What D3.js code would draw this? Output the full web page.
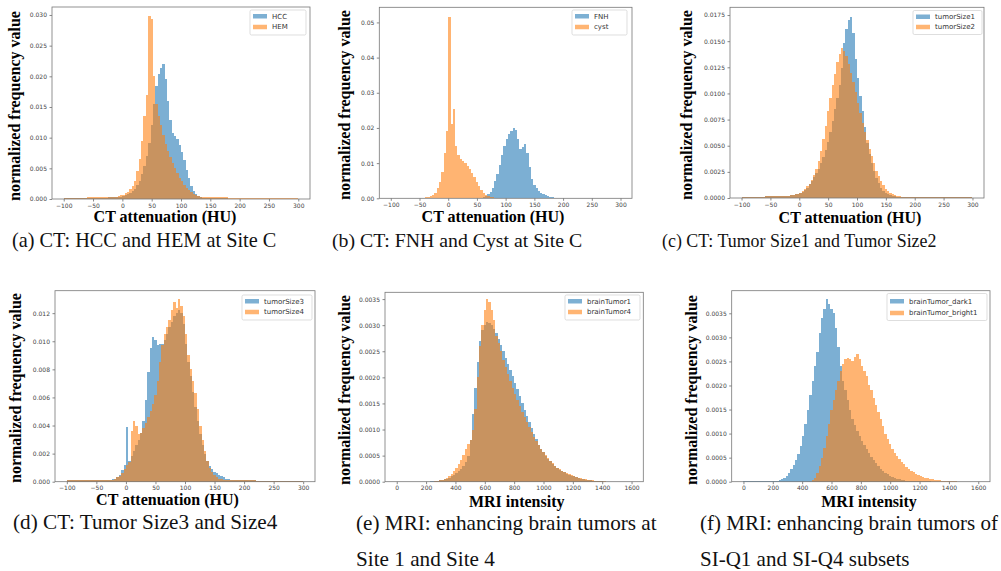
<!DOCTYPE html>
<html><head><meta charset="utf-8">
<script src="https://cdn.jsdelivr.net/npm/d3@7"></script>
<style>html,body{margin:0;padding:0;background:#fff;} svg{display:block;}</style>
</head><body><svg id="c" width="1001" height="571"></svg>
<script>
// ---------- DATA (normalized frequency per bin, 100 bins each) ----------
// CT bins: -100..300 HU, width 4 ; MRI bins: 0..1600, width 16
const ctTicks = [-100, -50, 0, 50, 100, 150, 200, 250, 300];
const mriTicks = [0, 200, 400, 600, 800, 1000, 1200, 1400, 1600];
const yTicksA = [0, 0.005, 0.010, 0.015, 0.020, 0.025, 0.030];
const yTicksB = [0, 0.01, 0.02, 0.03, 0.04, 0.05];
const yTicksC = [0, 0.0025, 0.0050, 0.0075, 0.0100, 0.0125, 0.0150, 0.0175];
const yTicksD = [0, 0.002, 0.004, 0.006, 0.008, 0.010, 0.012];
const yTicksE = [0, 0.0005, 0.0010, 0.0015, 0.0020, 0.0025, 0.0030, 0.0035];
const yTicksF = [0, 0.0005, 0.0010, 0.0015, 0.0020, 0.0025, 0.0030, 0.0035];

const hccValues = [
0.0001,0.0001,0.0001,0.0001,0.0001,0.0001,0.0001,0.0001,0.0001,0.0001,
0.0001,0.0001,0.0001,0.0001,0.0001,0.0002,0.0002,0.0002,0.0002,0.0003,
0.0003,0.0003,0.0003,0.0004,0.0004,0.0005,0.0006,0.0008,0.0010,0.0013,
0.0017,0.0023,0.0030,0.0040,0.0053,0.0070,0.0092,0.0120,0.0155,0.0185,
0.0203,0.0213,0.0220,0.0195,0.0160,0.0128,0.0108,0.0103,0.0097,0.0088,
0.0077,0.0063,0.0048,0.0034,0.0022,0.0013,0.0008,0.0005,0.0003,0.0002,
0.0001,0.0001,0.0001,0.0001,0.0001,0.0001,0.0001,0.0001,0.0001,0.0001,
0,0,0,0,0,0,0,0,0,0,
0,0,0,0,0,0,0,0,0,0,
0,0,0,0,0,0,0,0,0,0];
const hemValues = [
0.0002,0.0002,0.0002,0.0002,0.0002,0.0002,0.0002,0.0002,0.0002,0.0002,
0.0003,0.0003,0.0003,0.0003,0.0003,0.0003,0.0003,0.0003,0.0003,0.0003,
0.0003,0.0004,0.0004,0.0005,0.0006,0.0007,0.0009,0.0012,0.0016,0.0022,
0.0030,0.0045,0.0065,0.0095,0.0135,0.0170,0.0298,0.0294,0.0200,0.0155,
0.0135,0.0120,0.0105,0.0090,0.0078,0.0068,0.0058,0.0050,0.0042,0.0035,
0.0029,0.0023,0.0018,0.0014,0.0011,0.0008,0.0006,0.0005,0.0004,0.0004,
0.0003,0.0003,0.0003,0.0003,0.0003,0.0003,0.0003,0.0003,0.0003,0.0003,
0.0002,0.0002,0.0002,0.0002,0.0002,0.0002,0.0002,0.0002,0.0002,0.0002,
0.0002,0.0002,0.0002,0.0002,0.0002,0.0001,0.0001,0.0001,0.0001,0.0001,
0.0001,0.0001,0.0001,0.0001,0.0001,0.0001,0.0001,0.0001,0.0001,0.0001];

const fnhValues = [
0,0,0,0,0,0,0,0,0,0,
0,0,0,0,0,0,0,0,0,0,
0,0,0,0,0,0,0,0,0,0,
0,0,0,0,0,0.0001,0.0001,0.0001,0.0001,0.0002,
0.0003,0.0006,0.0011,0.0019,0.0030,0.0048,0.0070,0.0095,0.0122,0.0148,
0.0168,0.0182,0.0192,0.0200,0.0193,0.0168,0.0140,0.0147,0.0153,0.0128,
0.0090,0.0055,0.0038,0.0028,0.0021,0.0016,0.0012,0.0009,0.0006,0.0004,
0.0003,0.0002,0.0001,0.0001,0,0,0,0,0,0,
0,0,0,0,0,0,0,0,0,0,
0,0,0,0,0,0,0,0,0,0];
const cystValues = [
0.0001,0.0001,0.0001,0.0001,0.0001,0.0001,0.0001,0.0001,0.0001,0.0001,
0.0002,0.0002,0.0002,0.0002,0.0002,0.0003,0.0004,0.0006,0.0010,0.0016,
0.0028,0.0045,0.0075,0.0130,0.0190,0.0515,0.0210,0.0255,0.0148,0.0122,
0.0112,0.0106,0.0100,0.0092,0.0083,0.0072,0.0060,0.0046,0.0036,0.0025,
0.0014,0.0009,0.0006,0.0004,0.0003,0.0002,0.0001,0.0001,0.0001,0.0001,
0.0001,0.0001,0.0001,0.0001,0.0001,0.0001,0,0,0,0,
0,0,0,0,0,0,0,0,0,0,
0,0,0,0,0,0,0,0,0,0,
0,0,0,0,0,0,0,0,0,0,
0,0,0,0,0,0,0,0,0,0];

const size1Values = [
0.0001,0.0001,0.0001,0.0001,0.0001,0.0001,0.0001,0.0001,0.0001,0.0001,
0.0002,0.0002,0.0002,0.0002,0.0002,0.0002,0.0002,0.0002,0.0002,0.0002,
0.0002,0.0003,0.0003,0.0004,0.0004,0.0005,0.0006,0.0008,0.0010,0.0013,
0.0016,0.0020,0.0024,0.0028,0.0033,0.0039,0.0046,0.0054,0.0063,0.0074,
0.0085,0.0096,0.0108,0.0124,0.0148,0.0162,0.0170,0.0173,0.0158,0.0133,
0.0115,0.0098,0.0083,0.0068,0.0053,0.0042,0.0033,0.0026,0.0019,0.0014,
0.0010,0.0007,0.0005,0.0004,0.0003,0.0002,0.0002,0.0001,0.0001,0.0001,
0.0001,0.0001,0.0001,0.0001,0.0001,0.0001,0.0001,0.0001,0.0001,0.0001,
0.00005,0.00005,0.00005,0.00005,0.00005,0.00005,0.00005,0.00005,0.00005,0.00005,
0.00005,0.00005,0.00005,0.00005,0.00005,0.00005,0.00005,0.00005,0.00005,0.00005];
const size2Values = [
0.0001,0.0001,0.0001,0.0001,0.0001,0.0001,0.0001,0.0001,0.0001,0.0001,
0.0002,0.0002,0.0002,0.0002,0.0002,0.0002,0.0002,0.0002,0.0002,0.0002,
0.0002,0.0003,0.0003,0.0004,0.0004,0.0005,0.0007,0.0009,0.0011,0.0013,
0.0017,0.0022,0.0028,0.0035,0.0045,0.0056,0.0069,0.0083,0.0096,0.0108,
0.0119,0.0130,0.0138,0.0143,0.0141,0.0136,0.0128,0.0120,0.0111,0.0101,
0.0091,0.0081,0.0072,0.0063,0.0055,0.0047,0.0040,0.0033,0.0026,0.0021,
0.0016,0.0012,0.0009,0.0007,0.0005,0.0004,0.0003,0.0002,0.0002,0.0001,
0.0001,0.0001,0.0001,0.0001,0.0001,0.0001,0.0001,0.0001,0.0001,0.0001,
0.00005,0.00005,0.00005,0.00005,0.00005,0.00005,0.00005,0.00005,0.00005,0.00005,
0.00005,0.00005,0.00005,0.00005,0.00005,0.00005,0.00005,0.00005,0.00005,0.00005];

const size3Values = [
0.0001,0.0001,0.0001,0.0001,0.0001,0.0001,0.0001,0.0001,0.0001,0.0001,
0.0001,0.0001,0.0001,0.0001,0.0001,0.0001,0.0001,0.0001,0.0001,0.0002,
0.0002,0.0003,0.0005,0.0008,0.0012,0.0039,0.0015,0.0018,0.0022,0.0026,
0.0030,0.0035,0.0043,0.0058,0.0078,0.0095,0.0103,0.0101,0.0097,0.0098,
0.0098,0.0101,0.0105,0.0110,0.0114,0.0118,0.0120,0.0122,0.0120,0.0112,
0.0098,0.0085,0.0075,0.0064,0.0053,0.0043,0.0034,0.0026,0.0020,0.0015,
0.0011,0.0009,0.0007,0.0006,0.0005,0.0004,0.0003,0.0002,0.0002,0.0001,
0.0001,0.0001,0.0001,0.0001,0.0001,0.0001,0.0001,0.0001,0.0001,0.0001,
0.00005,0.00005,0.00005,0.00005,0.00005,0.00005,0.00005,0.00005,0.00005,0.00005,
0.00005,0.00005,0.00005,0.00005,0.00005,0.00005,0.00005,0.00005,0.00005,0.00005];
const size4Values = [
0.0001,0.0001,0.0001,0.0001,0.0001,0.0001,0.0001,0.0001,0.0001,0.0001,
0.0001,0.0001,0.0001,0.0001,0.0001,0.0001,0.0001,0.0001,0.0001,0.0001,
0.0002,0.0003,0.0004,0.0006,0.0009,0.0012,0.0014,0.0036,0.0043,0.0040,
0.0034,0.0035,0.0038,0.0042,0.0046,0.0050,0.0055,0.0062,0.0072,0.0085,
0.0097,0.0105,0.0110,0.0115,0.0122,0.0128,0.0124,0.0130,0.0125,0.0118,
0.0105,0.0090,0.0080,0.0072,0.0063,0.0052,0.0040,0.0030,0.0022,0.0015,
0.0010,0.0007,0.0005,0.0003,0.0002,0.0002,0.0001,0.0001,0.0001,0.0001,
0.0001,0.0001,0.0001,0.0001,0.0001,0.0001,0.0001,0.0001,0.0001,0.0001,
0.00005,0.00005,0.00005,0.00005,0.00005,0.00005,0.00005,0.00005,0.00005,0.00005,
0.00005,0.00005,0.00005,0.00005,0.00005,0.00005,0.00005,0.00005,0.00005,0.00005];

const bt1Values = [
0,0,0,0,0,0,0,0,0,0,
0,0,0,0,0.00001,0.00001,0.00002,0.00002,0.00003,0.00004,
0.00005,0.00006,0.00008,0.0001,0.00013,0.00016,0.0002,0.00025,0.0003,0.00038,
0.0005,0.0008,0.0013,0.0018,0.0023,0.0027,0.0029,0.0030,0.00306,0.00305,
0.0030,0.00293,0.00285,0.00274,0.00262,0.0025,0.00238,0.00226,0.00214,0.00202,
0.0019,0.00177,0.00164,0.00151,0.00138,0.00126,0.00114,0.00103,0.00092,0.00081,
0.0007,0.00062,0.00056,0.0005,0.00044,0.00039,0.00034,0.0003,0.00026,0.00023,
0.0002,0.00018,0.00015,0.00013,0.00011,0.0001,0.00009,0.00008,0.00006,0.00005,
0.00004,0.00003,0.00003,0.00002,0.00002,0.00001,0.00001,0.00001,0,0,
0,0,0,0,0,0,0,0,0,0];
const bt4Values = [
0,0,0,0,0,0,0,0,0,0,
0,0,0,0,0,0,0.00001,0.00002,0.00003,0.00004,
0.00005,0.00007,0.0001,0.00014,0.0002,0.00026,0.00033,0.00042,0.00052,0.00062,
0.00072,0.0008,0.001,0.0014,0.002,0.0026,0.003,0.0033,0.0035,0.00345,
0.0033,0.0031,0.0028,0.00265,0.0025,0.00234,0.0022,0.00206,0.00193,0.0018,
0.00168,0.00156,0.00145,0.00134,0.00124,0.00114,0.00104,0.00095,0.00086,0.00078,
0.0007,0.00063,0.00057,0.00051,0.00045,0.0004,0.00035,0.00031,0.00027,0.00024,
0.00021,0.00018,0.00016,0.00014,0.00012,0.0001,0.00009,0.00008,0.00007,0.00006,
0.00005,0.00004,0.00003,0.00003,0.00002,0.00002,0.00001,0.00001,0.00001,0,
0,0,0,0,0,0,0,0,0,0];

const dark1Values = [
0.00001,0.00001,0.00001,0.00001,0.00001,0.00001,0.00001,0.00001,0.00001,0.00001,
0.00001,0.00001,0.00001,0.00001,0.00002,0.00003,0.00005,0.00008,0.00012,0.00018,
0.00026,0.00035,0.00045,0.00058,0.00075,0.00095,0.0012,0.0015,0.0018,0.0021,
0.0024,0.0027,0.0031,0.0034,0.0036,0.0038,0.0037,0.0036,0.0035,0.0032,
0.0028,0.0024,0.0021,0.0019,0.0017,0.0015,0.0013,0.00118,0.00106,0.00095,
0.00085,0.00076,0.00068,0.0006,0.00052,0.00045,0.00038,0.00032,0.00027,0.00022,
0.00018,0.00015,0.00012,0.0001,0.00008,0.00006,0.00005,0.00004,0.00003,0.00002,
0.00001,0.00001,0.00001,0.00001,0.00001,0.00001,0.00001,0.00001,0.00001,0.00001,
0,0,0,0,0,0,0,0,0,0,
0,0,0,0,0,0,0,0,0,0];
const bright1Values = [
0,0,0,0,0,0,0,0,0,0,
0,0,0,0,0,0,0,0,0,0,
0,0,0,0,0,0,0,0,0,0.00003,
0.00008,0.00018,0.00032,0.0005,0.0007,0.00095,0.0012,0.0015,0.0017,0.0019,
0.0021,0.0023,0.00245,0.00255,0.00258,0.00255,0.0025,0.0026,0.00265,0.00255,
0.0024,0.0023,0.0022,0.002,0.0019,0.00175,0.0016,0.00145,0.0013,0.00115,
0.001,0.00088,0.00078,0.00069,0.0006,0.00053,0.00047,0.00041,0.00036,0.00031,
0.00027,0.00023,0.0002,0.00017,0.00014,0.00012,0.0001,0.00008,0.00007,0.00006,
0.00005,0.00004,0.00003,0.00003,0.00002,0.00002,0.00001,0.00001,0.00001,0.00001,
0.00001,0,0,0,0,0,0,0,0,0];

// ---------- LAYOUT ----------
const BLUE = '#1f77b4', ORANGE = '#ff7f0e';
const ALPHA = 0.58;
const ctEdges = d3.range(101).map(i => -100 + 4 * i);
const mriEdges = d3.range(101).map(i => 16 * i);

const panels = [
  { box:{l:52,r:310,t:7,b:199}, xdom:[-120,320], ymax:0.0313, xt:ctTicks, yt:yTicksA, fmt:'.3f', edges:ctEdges,
    series:[['HCC',hccValues,BLUE],['HEM',hemValues,ORANGE]], leg:[250,10,56,25],
    xl:['CT attenuation (HU)',165,221.7], yl:[20,106], capSize:20.3, cap:[[ '(a) CT: HCC and HEM at Site C',12,246.7]] },
  { box:{l:379.3,r:632,t:7.3,b:198.3}, xdom:[-120,320], ymax:0.0543, xt:ctTicks, yt:yTicksB, fmt:'.2f', edges:ctEdges,
    series:[['FNH',fnhValues,BLUE],['cyst',cystValues,ORANGE]], leg:[572,10,55,25],
    xl:['CT attenuation (HU)',493,221.7], yl:[350,105], capSize:19.8, cap:[[ '(b) CT: FNH and Cyst at Site C',332,246.7]] },
  { box:{l:730,r:984,t:7.3,b:198}, xdom:[-120,320], ymax:0.01824, xt:ctTicks, yt:yTicksC, fmt:'.4f', edges:ctEdges,
    series:[['tumorSize1',size1Values,BLUE],['tumorSize2',size2Values,ORANGE]], leg:[913,10.5,69,24],
    xl:['CT attenuation (HU)',850,222.7], yl:[692,105], capSize:17.9, cap:[[ '(c) CT: Tumor Size1 and Tumor Size2',662,246.7]] },
  { box:{l:55,r:315,t:290.7,b:481.7}, xdom:[-120,320], ymax:0.0136, xt:ctTicks, yt:yTicksD, fmt:'.3f', edges:ctEdges,
    series:[['tumorSize3',size3Values,BLUE],['tumorSize4',size4Values,ORANGE]], leg:[242,295,70,25],
    xl:['CT attenuation (HU)',167.5,504.5], yl:[21,388], capSize:21.2, cap:[[ '(d) CT: Tumor Size3 and Size4',13,528.5]] },
  { box:{l:385,r:643.3,t:292.3,b:481.7}, xdom:[-80,1680], ymax:0.00363, xt:mriTicks, yt:yTicksE, fmt:'.4f', edges:mriEdges,
    series:[['brainTumor1',bt1Values,BLUE],['brainTumor4',bt4Values,ORANGE]], leg:[565,295,75,25],
    xl:['MRI intensity',516.7,506.5], yl:[350,390], capSize:21.2, cap:[[ '(e) MRI: enhancing brain tumors at',356,529.5],['Site 1 and Site 4',356,566]] },
  { box:{l:731.7,r:990,t:290.7,b:481.7}, xdom:[-80,1680], ymax:0.00397, xt:mriTicks, yt:yTicksF, fmt:'.4f', edges:mriEdges,
    series:[['brainTumor_dark1',dark1Values,BLUE],['brainTumor_bright1',bright1Values,ORANGE]], leg:[887,293.5,100,27],
    xl:['MRI intensity',869,506.5], yl:[697,390], capSize:21, cap:[[ '(f) MRI: enhancing brain tumors of',700,529.5],['SI-Q1 and SI-Q4 subsets',700,566]] }
];

const bad = [];
panels.forEach(p => p.series.forEach(s => { if (s[1].length !== 100) bad.push(s[0] + ':' + s[1].length); }));
if (bad.length) throw new Error('bad lengths ' + bad.join(','));

const svg = d3.select('#c');
const TICKFONT = 'DejaVu Sans, sans-serif';
const SERIF = '"Liberation Serif", "Times New Roman", serif';

panels.forEach(p => {
  const x = d3.scaleLinear().domain(p.xdom).range([p.box.l, p.box.r]);
  const y = d3.scaleLinear().domain([0, p.ymax]).range([p.box.b, p.box.t]);
  const g = svg.append('g');

  p.series.forEach(([name, vals, color]) => {
    const sg = g.append('g').attr('opacity', ALPHA);
    sg.selectAll('rect')
      .data(vals.map((v, i) => ({ v, x0: p.edges[i], x1: p.edges[i + 1] })).filter(d => d.v > 0))
      .join('rect')
      .attr('x', d => x(d.x0))
      .attr('width', d => x(d.x1) - x(d.x0))
      .attr('y', d => y(d.v))
      .attr('height', d => y(0) - y(d.v))
      .attr('fill', color)
      .attr('shape-rendering', 'crispEdges');
  });

  const xa = g.append('g').attr('transform', `translate(0,${p.box.b})`)
    .call(d3.axisBottom(x).tickValues(p.xt).tickFormat(d3.format('d')).tickSize(2.5).tickSizeOuter(0).tickPadding(2));
  const ya = g.append('g').attr('transform', `translate(${p.box.l},0)`)
    .call(d3.axisLeft(y).tickValues(p.yt).tickFormat(d3.format(p.fmt)).tickSize(2.5).tickSizeOuter(0).tickPadding(2.5));
  [xa, ya].forEach(a => {
    a.select('.domain').remove();
    a.selectAll('line').attr('stroke', '#555').attr('stroke-width', 0.7);
    a.selectAll('text').attr('font-family', TICKFONT).attr('font-size', 6).attr('fill', '#444');
  });

  g.append('rect').attr('x', p.box.l).attr('y', p.box.t)
    .attr('width', p.box.r - p.box.l).attr('height', p.box.b - p.box.t)
    .attr('fill', 'none').attr('stroke', '#777').attr('stroke-width', 0.8);

  // legend
  const [lx, ly, lw, lh] = p.leg;
  const lg = g.append('g');
  lg.append('rect').attr('x', lx).attr('y', ly).attr('width', lw).attr('height', lh)
    .attr('rx', 1.5).attr('fill', '#fff').attr('fill-opacity', 0.85).attr('stroke', '#d0d0d0').attr('stroke-width', 0.7);
  const rowGap = (lh - 4.5) / 2 + 0.5;
  p.series.forEach(([name, vals, color], k) => {
    const py = ly + 4 + k * rowGap + (lh > 26 ? 1.5 : 0);
    lg.append('rect').attr('x', lx + 3).attr('y', py).attr('width', 14).attr('height', 4.5)
      .attr('fill', color).attr('fill-opacity', ALPHA);
    lg.append('text').attr('x', lx + 22).attr('y', py + 4.6).text(name)
      .attr('font-family', TICKFONT).attr('font-size', 7).attr('fill', '#333');
  });

  // axis labels
  g.append('text').attr('x', p.xl[1]).attr('y', p.xl[2]).attr('text-anchor', 'middle')
    .attr('font-family', SERIF).attr('font-weight', 'bold').attr('font-size', 16).attr('fill', '#000').text(p.xl[0]);
  g.append('text').attr('transform', `translate(${p.yl[0]},${p.yl[1]}) rotate(-90)`).attr('text-anchor', 'middle')
    .attr('font-family', SERIF).attr('font-weight', 'bold').attr('font-size', 16).attr('fill', '#000')
    .text('normalized frequency value');

  p.cap.forEach(([t, cx, cy]) => {
    g.append('text').attr('x', cx).attr('y', cy).attr('font-family', SERIF).attr('font-size', p.capSize)
      .attr('fill', '#111').text(t);
  });
});
</script></body></html>
